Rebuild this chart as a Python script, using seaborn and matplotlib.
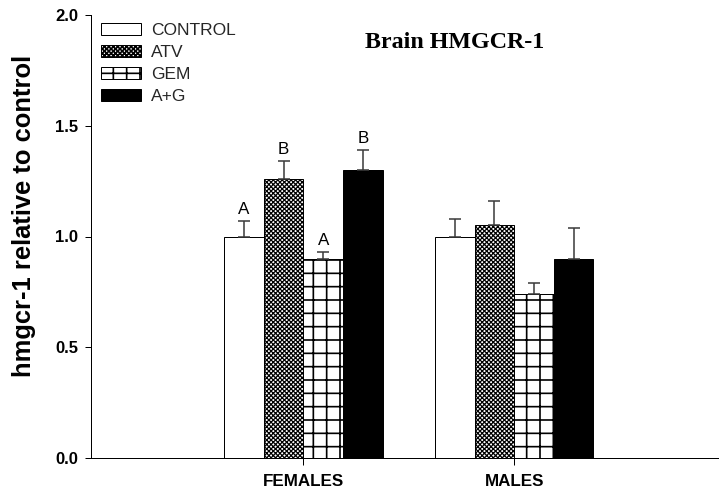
import matplotlib
matplotlib.use("Agg")
import matplotlib.pyplot as plt
import matplotlib.patches as mpatches
import numpy as np
import pandas as pd
import seaborn as sns

# Group / treatment layout
groups = ["FEMALES", "MALES"]
treatments = ["CONTROL", "ATV", "GEM", "A+G"]

# Mean expression relative to control, with upper error (SEM)
female_means = [1.00, 1.26, 0.90, 1.30]
female_err = [0.07, 0.08, 0.03, 0.09]
male_means = [1.00, 1.05, 0.74, 0.90]
male_err = [0.08, 0.11, 0.05, 0.14]

# Significance letters above the female bars
female_letters = ["A", "B", "A", "B"]
male_letters = ["", "", "", ""]

y_ticks = [0.0, 0.5, 1.0, 1.5, 2.0]

fills = {"CONTROL": "white", "ATV": "white", "GEM": "white", "A+G": "black"}
hatches = {"CONTROL": "", "ATV": "xxxxxx", "GEM": "+", "A+G": ""}
hatch_widths = {"CONTROL": 1.0, "ATV": 1.1, "GEM": 1.5, "A+G": 1.0}

sns.set_theme(style="ticks")
plt.rcParams["font.family"] = ["Liberation Sans", "DejaVu Sans"]
plt.rcParams["hatch.linewidth"] = 1.5
plt.rcParams["hatch.color"] = "black"


def style_patch(patch, treat):
    patch.set_hatch(hatches[treat])
    patch.set_edgecolor("black")
    if hasattr(patch, "set_hatch_linewidth"):
        patch.set_hatch_linewidth(hatch_widths[treat])


df = pd.DataFrame({
    "group": [g for g in groups for _ in treatments],
    "treatment": treatments * len(groups),
    "value": female_means + male_means,
    "err": female_err + male_err,
    "letter": female_letters + male_letters,
})

DPI = 80
fig = plt.figure(figsize=(719 / DPI, 498 / DPI), dpi=DPI)
ax = fig.add_axes([91 / 719, 40 / 498, 628 / 719, 443 / 498])

sns.barplot(
    data=df, x="group", y="value", hue="treatment",
    order=groups, hue_order=treatments, palette=fills,
    saturation=1, width=0.752, gap=0, errorbar=None,
    edgecolor="black", linewidth=0.9, legend=False, ax=ax,
)

# Hatching, error bars and letters per treatment
for treat, cont in zip(treatments, ax.containers):
    sub = df[df["treatment"] == treat].set_index("group").loc[groups]
    xs, hs = [], []
    for patch in cont:
        style_patch(patch, treat)
        xs.append(patch.get_x() + patch.get_width() / 2)
        hs.append(patch.get_height())
    errs = sub["err"].to_numpy()
    ax.errorbar(xs, hs, yerr=[np.zeros_like(errs), errs], fmt="none",
                ecolor="#3c3c3c", elinewidth=1.4, capsize=5.4, capthick=1.4,
                zorder=3)
    for x, h, e, lab in zip(xs, hs, errs, sub["letter"]):
        if lab:
            ax.annotate(lab, (x, h + e), xytext=(0, 6.3),
                        textcoords="offset points", ha="center",
                        va="baseline", fontsize=15.3, color="black")

ax.set_xlim(-1.0076, 1.9715)
ax.set_ylim(0, 2.0)
ax.set_yticks(y_ticks)
ax.set_yticklabels([f"{v:.1f}" for v in y_ticks])
ax.set_xlabel("")
ax.set_ylabel("")

for side in ("top", "right"):
    ax.spines[side].set_visible(False)
for side in ("left", "bottom"):
    ax.spines[side].set_color("black")
    ax.spines[side].set_linewidth(0.9)

ax.tick_params(axis="y", length=5.4, width=0.9, pad=6.3, labelsize=15,
               colors="black", direction="out")
ax.tick_params(axis="x", length=6.3, width=0.9, pad=8.5, labelsize=15.3,
               colors="black", direction="out")
for lbl in ax.get_xticklabels() + ax.get_yticklabels():
    lbl.set_fontweight("bold")

fig.text(12 / 719, 1 - 216 / 498, "hmgcr-1 relative to control",
         rotation=90, ha="left", va="center", fontsize=23,
         fontweight="bold", color="black")

fig.text(454.5 / 719, 1 - 48 / 498, "Brain HMGCR-1", ha="center",
         va="baseline", fontsize=21.6, fontweight="bold",
         family=["Liberation Serif", "DejaVu Serif"], color="black")

handles = []
for t in treatments:
    h = mpatches.Patch(facecolor=fills[t], edgecolor="black",
                       linewidth=0.9, label=t)
    style_patch(h, t)
    handles.append(h)
ax.legend(handles=handles, loc="upper left",
          bbox_to_anchor=(101 / 719, 1 - 23 / 498),
          bbox_transform=fig.transFigure, frameon=False, borderpad=0,
          borderaxespad=0, fontsize=15.7, handlelength=2.3,
          handleheight=0.7, handletextpad=0.55, labelspacing=0.38)

fig.savefig("out.png", dpi=DPI, facecolor="white")
